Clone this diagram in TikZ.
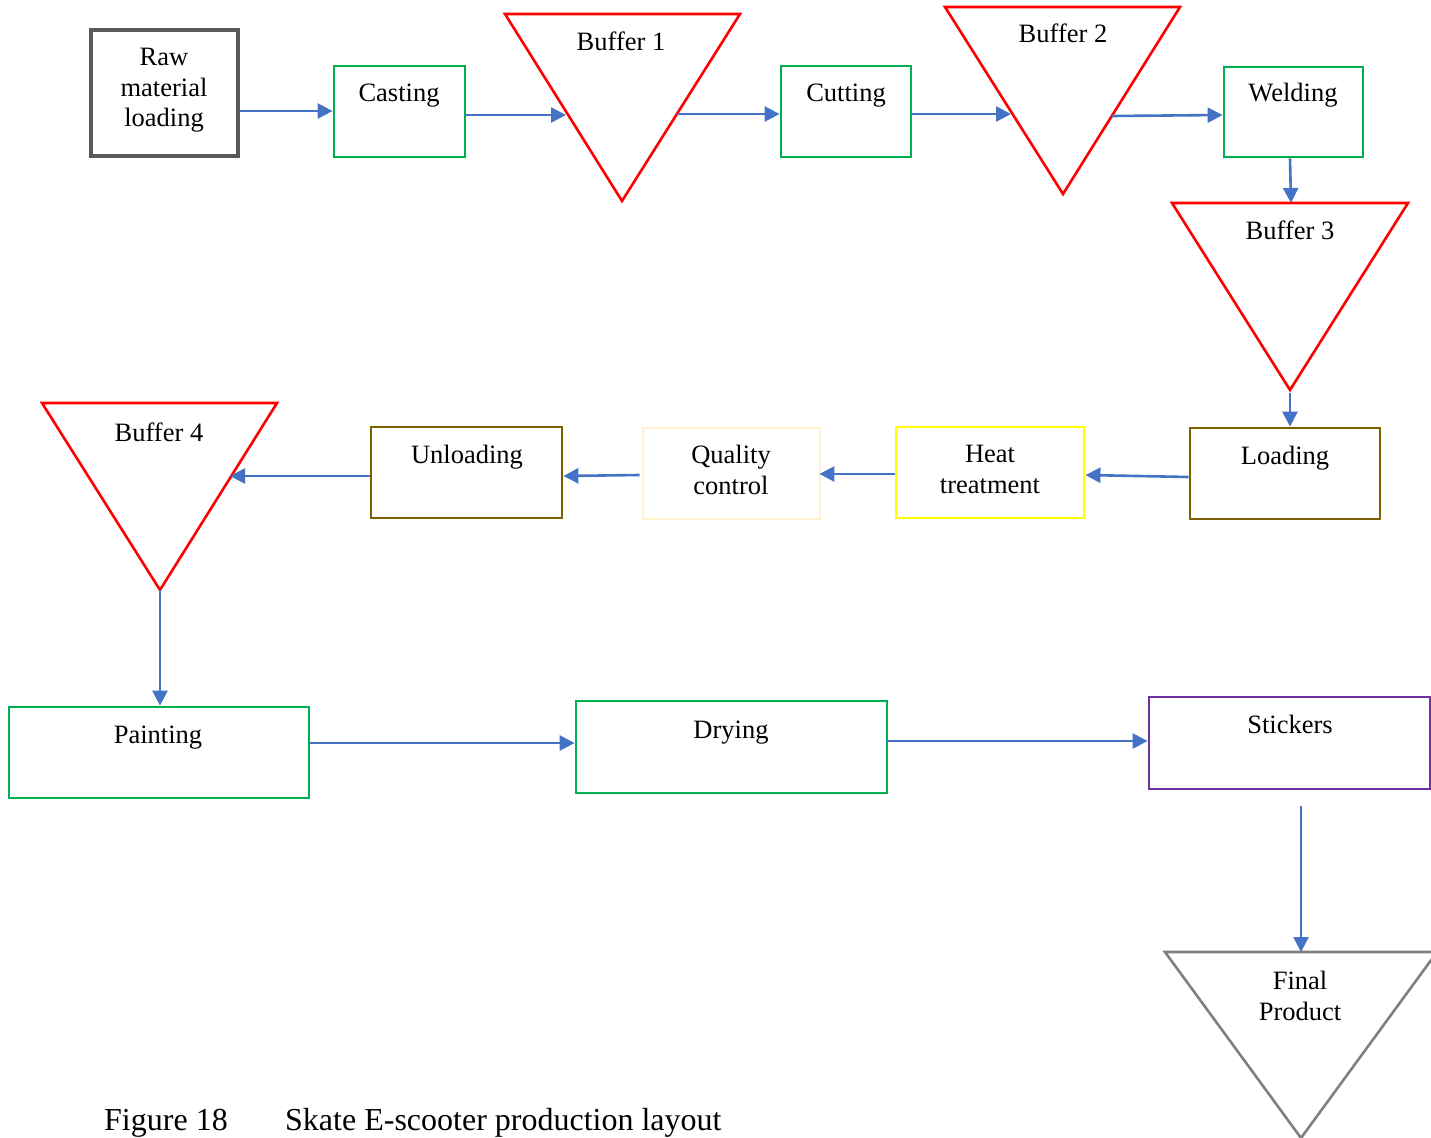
\documentclass[tikz,border=0pt]{standalone}
\usepackage{fontspec}
\setmainfont{Liberation Serif}
\usetikzlibrary{arrows.meta}
\definecolor{boxgray}{HTML}{595959}
\definecolor{stepgreen}{HTML}{00B050}
\definecolor{bufred}{HTML}{FF0000}
\definecolor{ovenbrown}{HTML}{7F6000}
\definecolor{heatyellow}{HTML}{FFFF00}
\definecolor{qcpale}{HTML}{FFF2CC}
\definecolor{stickpurple}{HTML}{7030A0}
\definecolor{finalgray}{HTML}{808080}
\definecolor{flowblue}{HTML}{4472C4}
\begin{document}
\begin{tikzpicture}[x=1pt,y=-1pt,
  box/.style={draw,line width=2.8pt,inner sep=0pt,fill=white},
  lbl/.style={inner sep=0pt,anchor=base,align=center,
    font=\fontsize{26.5}{30.5}\selectfont},
  buffer/.style={draw=bufred,line width=2.6pt,line join=miter},
  flow/.style={draw=flowblue,line width=2.6pt,
    -{Triangle[length=15pt,width=15pt]}},
]
\useasboundingbox (0,0) rectangle (1431,1137);
\clip (0,0) rectangle (1431,1137);

% ---- first row ----
\node[box,draw=boxgray,line width=3.4pt,minimum width=147pt,minimum height=126pt] (raw) at (164.5,93) {};
\node[lbl] (rawt) at (164,127) {Raw\\material\\loading};

\node[box,draw=stepgreen,minimum width=131pt,minimum height=91pt] (cast) at (399.5,111.5) {};
\node[lbl] (castt) at (399,102) {Casting};

\draw[buffer] (505,14) -- (740,14) -- (622,201) -- cycle;
\node[lbl] (b1t) at (621,51) {Buffer 1};
\coordinate (b1in) at (566,115);
\coordinate (b1out) at (677,114);

\node[box,draw=stepgreen,minimum width=130pt,minimum height=91pt] (cut) at (846,111.5) {};
\node[lbl] (cutt) at (846,102) {Cutting};

\draw[buffer] (945,7) -- (1180,7) -- (1063,194) -- cycle;
\node[lbl] (b2t) at (1063,43) {Buffer 2};
\coordinate (b2in) at (1011,114);
\coordinate (b2out) at (1112,116);

\node[box,draw=stepgreen,minimum width=139pt,minimum height=90pt] (weld) at (1293.5,112) {};
\node[lbl] (weldt) at (1293,102) {Welding};

\draw[buffer] (1172,203) -- (1408,203) -- (1290,390) -- cycle;
\node[lbl] (b3t) at (1290,239) {Buffer 3};
\coordinate (b3in) at (1291,203);
\coordinate (b3out) at (1290,393);

% ---- second row ----
\node[box,draw=ovenbrown,minimum width=190pt,minimum height=91pt] (load) at (1285,473.5) {};
\node[lbl] (loadt) at (1285,464) {Loading};

\node[box,draw=heatyellow,minimum width=188pt,minimum height=91pt] (heat) at (990,472.5) {};
\node[lbl] (heatt) at (990,493) {Heat\\treatment};

\node[box,draw=qcpale,minimum width=177pt,minimum height=91pt] (qc) at (731.5,473.5) {};
\node[lbl] (qct) at (731,494) {Quality\\control};

\node[box,draw=ovenbrown,minimum width=191pt,minimum height=91pt] (unload) at (466.5,472.5) {};
\node[lbl] (unloadt) at (467,463) {Unloading};

\draw[buffer] (42,403) -- (277,403) -- (160,590) -- cycle;
\node[lbl] (b4t) at (159,441) {Buffer 4};
\coordinate (b4in) at (230,476);
\coordinate (b4out) at (160,590);

% ---- third row ----
\node[box,draw=stepgreen,minimum width=300pt,minimum height=91pt] (paint) at (159,752.5) {};
\node[lbl] (paintt) at (158,743) {Painting};

\node[box,draw=stepgreen,minimum width=311pt,minimum height=92pt] (dry) at (731.5,747) {};
\node[lbl] (dryt) at (731,738) {Drying};

\node[box,draw=stickpurple,minimum width=281pt,minimum height=92pt] (stick) at (1289.5,743) {};
\node[lbl] (stickt) at (1290,733) {Stickers};
\coordinate (stickout) at (1301,806);

\draw[draw=finalgray,line width=2.6pt] (1165,952) -- (1437,952) -- (1301,1138) -- cycle;
\node[lbl] (finalt) at (1300,1020) {Final\\Product};
\coordinate (finalin) at (1301,952);

% ---- material flow ----
\draw[flow] (raw.east |- 0,111) -- (cast.west |- 0,111);
\draw[flow] (cast.east |- b1in) -- (b1in);
\draw[flow] (b1out) -- (cut.west |- b1out);
\draw[flow] (cut.east |- b2in) -- (b2in);
\draw[flow] (b2out) -- (weld.west |- 0,115);
\draw[flow] (weld.south -| 1290,0) -- (b3in);
\draw[flow] (b3out) -- (load.north -| b3out);
\draw[flow] (load.west |- 0,477) -- (heat.east |- 0,475);
\draw[flow] (heat.west |- 0,474) -- ([xshift=-2pt]qc.east |- 0,474);
\draw[flow] ([xshift=-2pt]qc.west |- 0,475) -- (unload.east |- 0,476);
\draw[flow] (unload.west |- b4in) -- (b4in);
\draw[flow] (b4out) -- (paint.north -| b4out);
\draw[flow] (paint.east |- 0,743) -- (dry.west |- 0,743);
\draw[flow] ([xshift=-2pt]dry.east |- 0,741) -- (stick.west |- 0,741);
\draw[flow] (stickout) -- (finalin);

% ---- caption ----
\node[inner sep=0pt,anchor=base west,font=\fontsize{32}{36}\selectfont] (capnum) at (104,1130) {Figure 18};
\node[inner sep=0pt,anchor=base west,font=\fontsize{32}{36}\selectfont] (captxt) at (285,1130) {Skate E-scooter production layout};
\end{tikzpicture}
\end{document}
